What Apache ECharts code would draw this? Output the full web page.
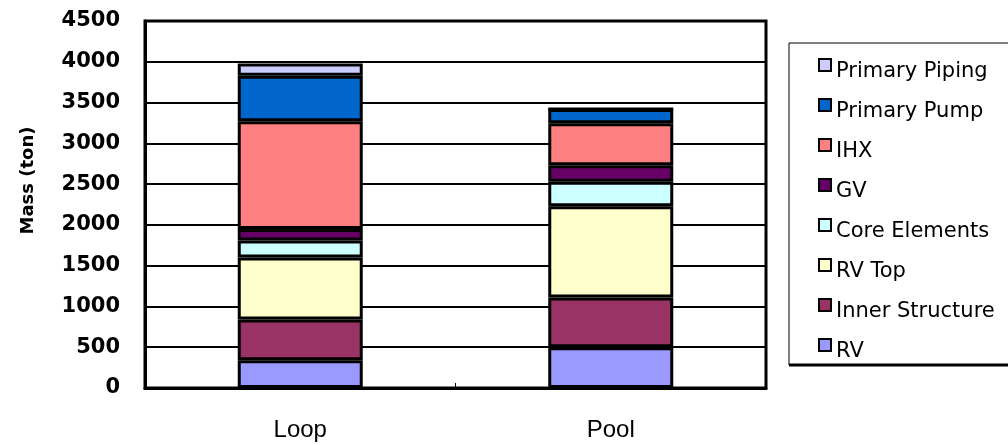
<!DOCTYPE html>
<html>
<head>
<meta charset="utf-8">
<script src="https://cdn.jsdelivr.net/npm/echarts@6/dist/echarts.min.js"></script>
<style>
  html, body { margin: 0; padding: 0; background: #fff; }
  #chart { width: 1008px; height: 445px; }
</style>
</head>
<body>
<div id="chart"></div>
<script>
// Plant layouts compared
const categories = ['Loop', 'Pool'];

// Component masses (ton), stacked bottom to top
const rv             = [340, 500];
const innerStructure = [500, 610];
const rvTop          = [760, 1120];
const coreElements   = [210, 300];
const gv             = [140, 200];
const ihx            = [1320, 515];
const primaryPump    = [560, 175];
const primaryPiping  = [150, 0];

const yTicks = { min: 0, max: 4500, interval: 500 };

const stack = [
  { name: 'RV',              data: rv,             color: '#9999FF' },
  { name: 'Inner Structure', data: innerStructure, color: '#993366' },
  { name: 'RV Top',          data: rvTop,          color: '#FFFFCC' },
  { name: 'Core Elements',   data: coreElements,   color: '#CCFFFF' },
  { name: 'GV',              data: gv,             color: '#660066' },
  { name: 'IHX',             data: ihx,            color: '#FF8080' },
  { name: 'Primary Pump',    data: primaryPump,    color: '#0066CC' },
  { name: 'Primary Piping',  data: primaryPiping,  color: '#CCCCFF' }
];

// Square swatch sitting at the top of a taller box, so it rides above the label's middle
const swatch = 'path://M0,0H12V12H0Z M0,0 M0,26';

const chart = echarts.init(document.getElementById('chart'), null, { renderer: 'canvas' });

chart.setOption({
  animation: false,
  backgroundColor: '#fff',
  grid: {
    left: 145, right: 242, top: 21, bottom: 57,
    show: true, borderColor: '#000', borderWidth: 3, backgroundColor: 'transparent'
  },
  graphic: [
    {
      type: 'rect', z: 0,
      shape: { x: 789, y: 43, width: 260, height: 322 },
      style: { fill: '#fff', stroke: '#000', lineWidth: 1 }
    },
    {
      type: 'line', z: 0,
      shape: { x1: 789, y1: 365, x2: 1010, y2: 365 },
      style: { stroke: '#000', lineWidth: 3 }
    }
  ],
  legend: {
    orient: 'vertical',
    left: 818,
    top: 58,
    padding: 0,
    itemWidth: 12,
    itemHeight: 26,
    itemGap: 12,
    icon: swatch,
    data: stack.map(s => s.name).reverse(),
    itemStyle: { borderColor: '#000', borderWidth: 2 },
    textStyle: {
      fontFamily: 'DejaVu Sans',
      fontSize: 21,
      color: '#000'
    }
  },
  xAxis: {
    type: 'category',
    data: categories,
    axisLine: { lineStyle: { color: '#000', width: 3 } },
    axisTick: { show: true, inside: true, length: 5, lineStyle: { color: '#000', width: 1 } },
    axisLabel: {
      margin: 30,
      fontFamily: 'Liberation Sans',
      fontSize: 24,
      color: '#000'
    },
    splitLine: { show: false }
  },
  yAxis: {
    type: 'value',
    min: yTicks.min, max: yTicks.max, interval: yTicks.interval,
    name: 'Mass (ton)',
    nameLocation: 'middle',
    nameGap: 108,
    nameRotate: 90,
    nameTextStyle: {
      fontFamily: 'DejaVu Sans',
      fontWeight: 'bold',
      fontSize: 18,
      color: '#000',
      padding: [0, 0, 0, 48]
    },
    axisLine: { show: true, lineStyle: { color: '#000', width: 3 } },
    axisTick: { show: false },
    axisLabel: {
      margin: 25,
      fontFamily: 'DejaVu Sans',
      fontWeight: 'bold',
      fontSize: 21,
      color: '#000',
      formatter: v => String(v)
    },
    splitLine: { show: true, lineStyle: { color: '#000', width: 2 } }
  },
  series: stack.map(s => ({
    name: s.name,
    type: 'bar',
    stack: 'mass',
    data: s.data,
    barWidth: 125,
    itemStyle: { color: s.color, borderColor: '#000', borderWidth: 3 },
    emphasis: { disabled: true }
  }))
});
</script>
</body>
</html>
